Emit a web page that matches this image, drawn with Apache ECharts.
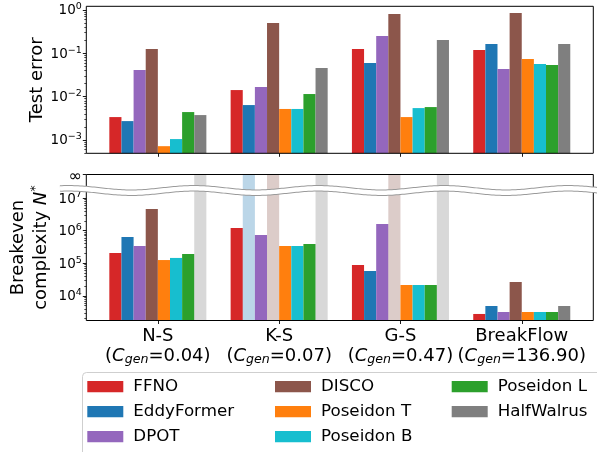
<!DOCTYPE html>
<html><head><meta charset="utf-8">
<script src="https://cdn.jsdelivr.net/npm/echarts@6/dist/echarts.min.js"></script>
<style>html,body{margin:0;padding:0;background:#fff}#c{width:597px;height:452px}</style>
</head><body><div id="c"></div>
<script>
// ---------------- data ----------------
const categories = ['N-S', 'K-S', 'G-S', 'BreakFlow'];
const cgen = ['0.04', '0.07', '0.47', '136.90'];
const seriesNames = ['FFNO', 'EddyFormer', 'DPOT', 'DISCO', 'Poseidon T', 'Poseidon B', 'Poseidon L', 'HalfWalrus'];
const colors = ['#d62728', '#1f77b4', '#9467bd', '#8c564b', '#ff7f0e', '#17becf', '#2ca02c', '#7f7f7f'];

// Test error (per model, across categories)
const errFFNO       = [3.38e-3, 0.0142, 0.126, 0.119];
const errEddyFormer = [2.73e-3, 6.4e-3, 0.0597, 0.164];
const errDPOT       = [0.0411, 0.0167, 0.251, 0.0434];
const errDISCO      = [0.126, 0.501, 0.809, 0.853];
const errPoseidonT  = [7.2e-4, 5.2e-3, 3.38e-3, 0.0738];
const errPoseidonB  = [1.05e-3, 5.2e-3, 5.45e-3, 0.0566];
const errPoseidonL  = [4.41e-3, 0.0115, 5.75e-3, 0.0537];
const errHalfWalrus = [3.76e-3, 0.0458, 0.203, 0.164];

// Breakeven complexity N* (Infinity = never breaks even)
const bkFFNO       = [2.06e5, 1.2e6, 8.8e4, 2.77e3];
const bkEddyFormer = [6.37e5, Infinity, 5.77e4, 4.87e3];
const bkDPOT       = [3.37e5, 7.3e5, 1.59e6, 3.18e3];
const bkDISCO      = [4.6e6, Infinity, Infinity, 2.65e4];
const bkPoseidonT  = [1.25e5, 3.37e5, 2.14e4, 3.18e3];
const bkPoseidonB  = [1.45e5, 3.37e5, 2.14e4, 3.18e3];
const bkPoseidonL  = [1.92e5, 3.88e5, 2.14e4, 3.18e3];
const bkHalfWalrus = [Infinity, Infinity, Infinity, 4.87e3];

// tick labels
const topMajorTicks = [1e-3, 1e-2, 1e-1, 1];
const botMajorTicks = [1e4, 1e5, 1e6, 1e7];
const infLabel = '∞';

// ---------------- layout / style ----------------
const TOP_MIN = 4.93e-4, TOP_MAX = 1.217;
const BOT_MIN = 1746, BOT_MAX = 5.26e7;
const FONT = 'DejaVu Sans';
const FRAME_L = 86.3, FRAME_R = 593.3;
const PAD = 10.9;
const TOP_Y0 = 6.3, TOP_Y1 = 153.3;
const BOT_Y0 = 174.5, BOT_Y1 = 320.5;

const errData = [errFFNO, errEddyFormer, errDPOT, errDISCO, errPoseidonT, errPoseidonB, errPoseidonL, errHalfWalrus];
const bkData = [bkFFNO, bkEddyFormer, bkDPOT, bkDISCO, bkPoseidonT, bkPoseidonB, bkPoseidonL, bkHalfWalrus];

function minorTicks(lo, hi) {
  const out = [];
  for (let e = Math.floor(Math.log10(lo)) - 1; e <= Math.ceil(Math.log10(hi)); e++) {
    for (let k = 2; k <= 9; k++) {
      const v = k * Math.pow(10, e);
      if (v > lo && v < hi) out.push(v);
    }
  }
  return out;
}

const labelRich = {
  b: { fontFamily: FONT, fontSize: 13.5, lineHeight: 16, color: '#000', verticalAlign: 'bottom' },
  p: { fontFamily: FONT, fontSize: 9.5, lineHeight: 7, color: '#000', verticalAlign: 'top' },
  inf: { fontFamily: FONT, fontSize: 16, lineHeight: 16, color: '#000', padding: [4, 0, 0, 0] }
};
function powLabel(v) {
  if (v >= BOT_MAX * 0.999) return '{inf|' + infLabel + '}';
  const e = Math.round(Math.log10(v));
  return '{b|10}{p|' + (e < 0 ? '\u2212' + (-e) : e) + '}';
}

function majorAxis(grid, min, max, ticks, extra) {
  return Object.assign({
    type: 'log', gridIndex: grid, min: min, max: max, logBase: 10,
    position: 'left', offset: PAD, startValue: min,
    nameMoveOverlap: false,
    axisLine: { show: false },
    splitLine: { show: false },
    minorTick: { show: false },
    axisTick: { show: true, customValues: ticks, length: 3.5, lineStyle: { color: '#000', width: 0.9 } },
    axisLabel: { show: true, customValues: ticks, formatter: powLabel, rich: labelRich, margin: 4.5, color: '#000' }
  }, extra || {});
}
function minorAxis(grid, min, max, ticks) {
  return {
    type: 'log', gridIndex: grid, min: min, max: max, logBase: 10,
    position: 'left', offset: PAD,
    axisLine: { show: false }, splitLine: { show: false },
    axisLabel: { show: false },
    axisTick: { show: true, customValues: ticks, length: 2, lineStyle: { color: '#000', width: 0.7 } }
  };
}

const topMinor = minorTicks(TOP_MIN, TOP_MAX);
const botMinor = minorTicks(BOT_MIN, 1.01e7);

const series = [];
seriesNames.forEach((name, i) => {
  series.push({
    name: name, type: 'bar', xAxisIndex: 0, yAxisIndex: 0,
    data: errData[i], itemStyle: { color: colors[i] },
    barGap: '0%', barCategoryGap: '20%', z: 2
  });
});
seriesNames.forEach((name, i) => {
  series.push({
    name: name, type: 'bar', xAxisIndex: 1, yAxisIndex: 2,
    data: bkData[i].map(v => isFinite(v) ? v : { value: BOT_MAX, itemStyle: { opacity: 0.3 } }),
    itemStyle: { color: colors[i] },
    barGap: '0%', barCategoryGap: '20%', z: 2
  });
});

// wavy axis-break decoration
function wavePoints() {
  const pts = [];
  for (let x = 60; x <= 600; x += 2) pts.push([x, 190.5 + 2.2 * Math.sin(2 * Math.PI * (x - 100) / 125)]);
  return pts;
}

function legendBlock(names, left) {
  return {
    data: names, orient: 'vertical', left: left, top: 376.7, padding: 0,
    itemGap: 5, itemWidth: 36, itemHeight: 11.3, icon: 'rect', z: 5,
    textStyle: { fontFamily: FONT, fontSize: 16.7, lineHeight: 20, color: '#000', padding: [0, 0, 0, 5] },
    selectedMode: false
  };
}

const catRich = {
  t: { fontFamily: FONT, fontSize: 18, lineHeight: 20, color: '#000' },
  c: { fontFamily: FONT, fontSize: 18, fontStyle: 'italic', lineHeight: 20, color: '#000' },
  s: { fontFamily: FONT, fontSize: 12.6, fontStyle: 'italic', lineHeight: 12, verticalAlign: 'bottom', color: '#000' }
};

const gridW = FRAME_R - FRAME_L - 2 * PAD;
const option = {
  backgroundColor: '#fff',
  animation: false,
  textStyle: { fontFamily: FONT },
  grid: [
    { left: FRAME_L + PAD, top: TOP_Y0, width: gridW, height: TOP_Y1 - TOP_Y0, outerBoundsMode: 'none', containLabel: false },
    { left: FRAME_L + PAD, top: BOT_Y0, width: gridW, height: BOT_Y1 - BOT_Y0, outerBoundsMode: 'none', containLabel: false }
  ],
  xAxis: [
    {
      type: 'category', gridIndex: 0, data: categories,
      axisLine: { show: false }, splitLine: { show: false },
      axisTick: { show: true, alignWithLabel: true, interval: 0, length: 3.5, lineStyle: { color: '#000', width: 0.9 } },
      axisLabel: { show: false }
    },
    {
      type: 'category', gridIndex: 1, data: categories,
      axisLine: { show: false }, splitLine: { show: false },
      axisTick: { show: true, alignWithLabel: true, interval: 0, length: 3.5, lineStyle: { color: '#000', width: 0.9 } },
      axisLabel: {
        show: true, interval: 0, margin: 6, color: '#000', fontFamily: FONT, fontSize: 18, lineHeight: 20,
        formatter: (v, idx) => '{t|' + v + '}\n{t|(}{c|C}{s|gen}{t|=' + cgen[idx] + ')}',
        rich: catRich
      }
    }
  ],
  yAxis: [
    majorAxis(0, TOP_MIN, TOP_MAX, topMajorTicks, {
      name: 'Test error', nameLocation: 'middle', nameRotate: 90, nameGap: 40,
      nameTextStyle: { fontFamily: FONT, fontSize: 18, color: '#000' }
    }),
    minorAxis(0, TOP_MIN, TOP_MAX, topMinor),
    majorAxis(1, BOT_MIN, BOT_MAX, botMajorTicks.concat([BOT_MAX]), {
      name: '{a|Breakeven}\n{a|complexity }{n|N}{s|*}', nameLocation: 'middle', nameRotate: 90, nameGap: 34,
      nameTextStyle: {
        fontFamily: FONT, fontSize: 18, color: '#000', lineHeight: 22.7, align: 'center',
        rich: {
          a: { fontFamily: FONT, fontSize: 18, lineHeight: 22.7, color: '#000' },
          n: { fontFamily: FONT, fontSize: 18, fontStyle: 'italic', lineHeight: 22.7, color: '#000' },
          s: { fontFamily: FONT, fontSize: 13, lineHeight: 10, verticalAlign: 'top', color: '#000' }
        }
      }
    }),
    minorAxis(1, BOT_MIN, BOT_MAX, botMinor)
  ],
  legend: [
    legendBlock(['FFNO', 'EddyFormer', 'DPOT'], 87.3),
    legendBlock(['DISCO', 'Poseidon T', 'Poseidon B'], 275),
    legendBlock(['Poseidon L', 'HalfWalrus'], 451.7)
  ],
  series: series,
  graphic: [
    { type: 'rect', z: 50, silent: true, shape: { x: FRAME_L, y: TOP_Y0, width: FRAME_R - FRAME_L, height: TOP_Y1 - TOP_Y0 },
      style: { fill: 'none', stroke: '#000', lineWidth: 1 } },
    { type: 'rect', z: 50, silent: true, shape: { x: FRAME_L, y: BOT_Y0, width: FRAME_R - FRAME_L, height: BOT_Y1 - BOT_Y0 },
      style: { fill: 'none', stroke: '#000', lineWidth: 1 } },
    { type: 'polyline', z: 60, silent: true, shape: { points: wavePoints() }, style: { stroke: '#9a9a9a', lineWidth: 6.5, fill: 'none' } },
    { type: 'polyline', z: 61, silent: true, shape: { points: wavePoints() }, style: { stroke: '#fff', lineWidth: 4.5, fill: 'none' } },
    { type: 'rect', z: 1, silent: true, shape: { x: 82.5, y: 372.5, width: 540, height: 120, r: 4 },
      style: { fill: '#fff', stroke: '#cfcfcf', lineWidth: 1 } }
  ]
};

const chart = echarts.init(document.getElementById('c'), null, { renderer: 'canvas', width: 597, height: 452 });
chart.setOption(option);
</script>
</body></html>
